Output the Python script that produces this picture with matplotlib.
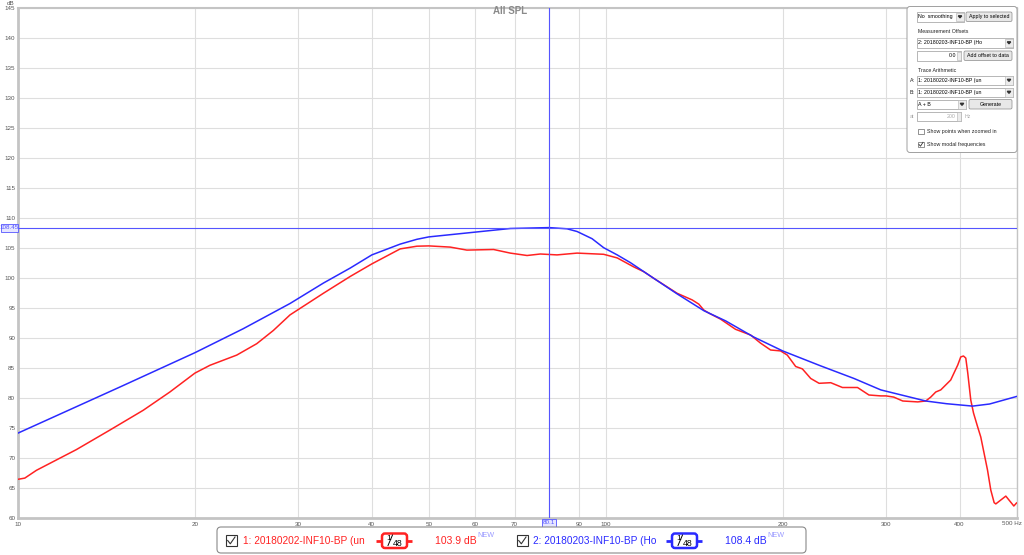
import matplotlib
matplotlib.use("Agg")
import matplotlib.pyplot as plt
from matplotlib.patches import FancyBboxPatch, Rectangle

plt.rcParams['font.family'] = ['Liberation Sans', 'DejaVu Sans']

# ---------------- data ----------------
red_freq = [10, 10.27, 10.75, 12.57, 14.33, 16.33, 18.13, 20, 21.21, 23.56, 25.48,
            27.19, 29.03, 33.08, 36.74, 40, 44.7, 47.72, 50, 54.38, 58.05, 64.45,
            68.81, 73.48, 77.41, 82.64, 89.39, 99.2, 104.6, 111.6, 116.1, 120.7,
            132.3, 140.3, 144.0, 146.9, 149.8, 156.8, 166.3, 176.4, 183.4, 190.8,
            198.4, 203.7, 210.5, 216.1, 223.3, 230.7, 241.5, 252.8, 268.2, 280.5,
            293.8, 300, 309.1, 320.2, 339.6, 350.4, 357.3, 364.4, 371.6, 386.4,
            397.2, 401.9, 406.2, 409.9, 413.1, 418.0, 422.5, 429.2, 434.7, 446.3,
            452.1, 458.1, 461.1, 479.5, 494.8, 500]
red_db = [66.5, 66.7, 68.0, 71.45, 74.7, 78.0, 81.05, 84.2, 85.5, 87.2, 89.1,
          91.3, 93.9, 97.5, 100.3, 102.4, 104.9, 105.35, 105.4, 105.2, 104.7, 104.8,
          104.2, 103.8, 104.05, 103.9, 104.2, 104.0, 103.4, 101.9, 101.1, 100.0,
          97.5, 96.4, 95.7, 94.7, 94.2, 93.2, 91.5, 90.55, 89.2, 88.05,
          87.9, 87.2, 85.3, 84.9, 83.3, 82.5, 82.6, 81.8, 81.8, 80.55,
          80.4, 80.4, 80.2, 79.55, 79.4, 79.55, 80.2, 81.05, 81.4, 83.05,
          85.55, 86.9, 87.05, 86.7, 84.2, 79.7, 77.55, 75.3, 73.55, 68.05,
          64.7, 62.6, 62.4, 63.7, 62.05, 62.55]

blue_freq = [10, 15, 20, 24.17, 29.03, 33.08, 36.74, 40, 44.7, 47.72, 50, 60, 68.81,
             80.1, 85.95, 89.39, 94.8, 99.2, 104.6, 110.2, 120.7, 132.3, 146.9, 160,
             178.7, 200, 232.2, 264.6, 293.8, 350.4, 380, 421, 450, 500]
blue_db = [74.2, 82.0, 87.6, 91.6, 95.8, 99.2, 101.7, 103.9, 105.7, 106.5, 106.9, 107.7, 108.3,
           108.45, 108.25, 107.8, 106.6, 105.1, 103.9, 102.6, 100.0, 97.4, 94.6, 92.9,
           90.2, 87.9, 85.4, 83.3, 81.4, 79.55, 79.1, 78.7, 79.05, 80.3]

x_ticks = [10, 20, 30, 40, 50, 60, 70, 80, 90, 100, 200, 300, 400, 500]
x_labels = ['10', '20', '30', '40', '50', '60', '70', '', '90', '100', '200', '300', '400', '']
x_unit_label = '500 Hz'
y_ticks = list(range(60, 146, 5))
cursor_freq = 80.1
cursor_db = 108.45
legend_names = ['1: 20180202-INF10-BP (un', '2: 20180203-INF10-BP (Ho']
legend_values = ['103.9 dB', '108.4 dB']

RED = '#ff2222'
BLUE = '#2a2aff'
CURSOR = '#5555ff'

# ---------------- figure ----------------
W, H = 1024, 555
fig = plt.figure(figsize=(W / 100, H / 100), dpi=100)
L, R, T, B = 18, 1016.5, 8.3, 518.3
ax = fig.add_axes([L / W, 1 - B / H, (R - L) / W, (B - T) / H])
ax.set_xscale('log')
ax.set_xlim(10, 500)
ax.set_ylim(60, 145)

ax.plot(red_freq, red_db, color=RED, lw=1.1, zorder=3)
ax.plot(blue_freq, blue_db, color=BLUE, lw=1.1, zorder=4)
ax.axvline(cursor_freq, color=CURSOR, lw=0.8, zorder=5)
ax.axhline(cursor_db, color=CURSOR, lw=0.8, zorder=5)

ax.set_xticks(x_ticks)
ax.set_xticklabels(x_labels)
ax.minorticks_off()
ax.set_yticks(y_ticks)
ax.set_yticklabels([str(v) for v in y_ticks])
ax.tick_params(axis='both', length=0, labelsize=4.5, colors='#555555')
ax.tick_params(axis='x', pad=3)
ax.tick_params(axis='y', pad=2)
ax.grid(True, color='#dedede', lw=0.8, zorder=0)
for s in ax.spines.values():
    s.set_color('#c4c4c4')
    s.set_linewidth(1.0)
ax.spines['left'].set_linewidth(2.0)
ax.spines['bottom'].set_linewidth(2.0)
ax.spines['top'].set_linewidth(1.5)

# ---------------- overlay in pixel coordinates ----------------
ov = fig.add_axes([0, 0, 1, 1], zorder=10)
ov.set_xlim(0, W)
ov.set_ylim(H, 0)
ov.axis('off')
ov.patch.set_alpha(0)

ov.text(14, 3.5, 'dB', fontsize=4.5, color='#555555', ha='right', va='center')
ov.text(1022, 523.5, x_unit_label, fontsize=4.5, color='#555555', ha='right', va='center')
ov.text(510, 11.5, 'All SPL', fontsize=7, color='#8a8a8a', fontweight='bold', ha='center', va='center')

# cursor labels
ov.add_patch(Rectangle((541.5, 519), 14, 8, facecolor='#e6e6ff', edgecolor=CURSOR, lw=0.6))
ov.text(548.5, 523, '80.1', fontsize=4.5, color=CURSOR, ha='center', va='center')
ov.add_patch(Rectangle((0.5, 223.5), 17, 8, facecolor='#e6e6ff', edgecolor=CURSOR, lw=0.6))
ov.text(9, 227.5, '108.45', fontsize=4.5, color=CURSOR, ha='center', va='center')

# ---- right control panel ----
ov.add_patch(FancyBboxPatch((907, 6.5), 110, 146, boxstyle='round,pad=0,rounding_size=3',
                            facecolor='white', edgecolor='#a0a0a0', lw=0.7))
fs = 3.8
def combo(x0, x1, y0, text, color='black'):
    ov.add_patch(Rectangle((x0, y0), x1 - x0, 9.5, facecolor='white', edgecolor='#9a9a9a', lw=0.5))
    ov.add_patch(Rectangle((x1 - 8, y0 + 0.5), 7.5, 8.5, facecolor='#ececec', edgecolor='#b0b0b0', lw=0.4))
    ov.fill([x1 - 5.7, x1 - 2.3, x1 - 4.0], [y0 + 3.8, y0 + 3.8, y0 + 5.8], color='#333333')
    ov.text(x0 + 1.5, y0 + 4.9, text, fontsize=fs, color=color, ha='left', va='center')

def button(x0, x1, y0, text):
    ov.add_patch(FancyBboxPatch((x0, y0), x1 - x0, 9.5, boxstyle='round,pad=0,rounding_size=1.5',
                                facecolor='#e8e8e8', edgecolor='#8a8a8a', lw=0.5))
    ov.text((x0 + x1) / 2, y0 + 4.9, text, fontsize=fs, color='black', ha='center', va='center')

def spin(x0, x1, y0, text, color='black'):
    ov.add_patch(Rectangle((x0, y0), x1 - x0, 9.5, facecolor='white', edgecolor='#9a9a9a', lw=0.5))
    ov.add_patch(Rectangle((x1 - 4, y0 + 0.5), 3.5, 8.5, facecolor='#ececec', edgecolor='#b0b0b0', lw=0.4))
    ov.text(x1 - 5, y0 + 4.9, text, fontsize=fs, color=color, ha='right', va='center')

combo(917, 964, 12, 'No  smoothing')
button(966, 1012, 12, 'Apply to selected')
ov.text(918, 31.5, 'Measurement Offsets', fontsize=fs, color='#222222', va='center')
combo(917, 1013, 38, '2: 20180203-INF10-BP (Ho')
spin(917, 961, 51, '0.0')
button(964, 1012, 51, 'Add offset to data')
ov.text(918, 70.5, 'Trace Arithmetic', fontsize=fs, color='#222222', va='center')
ov.text(909.5, 80.5, 'A:', fontsize=fs, color='#222222', va='center')
combo(917, 1013, 75.5, '1: 20180202-INF10-BP (un')
ov.text(909.5, 92.5, 'B:', fontsize=fs, color='#222222', va='center')
combo(917, 1013, 87.5, '1: 20180202-INF10-BP (un')
combo(917, 966, 99.5, 'A + B')
button(969, 1012, 99.5, 'Generate')
ov.text(909.5, 116.5, 'at', fontsize=fs, color='#aaaaaa', va='center')
spin(917, 961, 111.5, '200', color='#aaaaaa')
ov.text(965, 116.5, 'Hz', fontsize=fs, color='#aaaaaa', va='center')
ov.add_patch(Rectangle((918, 128.5), 5.5, 5.5, facecolor='white', edgecolor='#666666', lw=0.5))
ov.text(927, 131.5, 'Show points when zoomed in', fontsize=fs, color='#222222', va='center')
ov.add_patch(Rectangle((918, 141.5), 5.5, 5.5, facecolor='white', edgecolor='#666666', lw=0.5))
ov.plot([919, 920.5, 923], [144.5, 146.2, 142.3], color='#333333', lw=0.6)
ov.text(927, 144.5, 'Show modal frequencies', fontsize=fs, color='#222222', va='center')

# ---- bottom legend ----
ov.add_patch(FancyBboxPatch((217, 527), 589, 26, boxstyle='round,pad=0,rounding_size=4',
                            facecolor='white', edgecolor='#8a8a8a', lw=0.8))
entries = [
    (225.5, 243, 376, 382, 407, 412, 435, RED),
    (516.5, 533, 666, 672, 697, 702, 725, BLUE),
]
for (cbx, tx, l0, b0, b1, l1, vx, col), name, val in zip(entries, legend_names, legend_values):
    ov.add_patch(Rectangle((cbx, 534.5), 11.5, 11.5, facecolor='white', edgecolor='#333333', lw=0.8))
    ov.plot([cbx + 2.2, cbx + 4.8, cbx + 9.5], [540.5, 543.8, 537.0], color='#333333', lw=0.8)
    ov.text(tx, 540.8, name, fontsize=7.3, color=col, ha='left', va='center')
    ov.plot([l0, l1], [541, 541], color=col, lw=2.0, solid_capstyle='butt')
    ov.add_patch(FancyBboxPatch((b0, 533.5), b1 - b0, 14.5, boxstyle='round,pad=0,rounding_size=3',
                                facecolor='white', edgecolor=col, lw=1.8, zorder=3))
    ov.text(b0 + 6.5, 538, '1', fontsize=6, color='black', ha='center', va='center', zorder=4)
    ov.plot([b0 + 6, b0 + 10.5], [545.5, 535], color='black', lw=0.7, zorder=4)
    ov.text(b0 + 16, 543.5, '48', fontsize=6.3, color='black', ha='center', va='center', zorder=4)
    ov.text(vx, 540.8, val, fontsize=7.5, color=col, ha='left', va='center')
    ov.text(vx + 42, 535.5, 'NEW', fontsize=5.2, color='#9999ff', ha='left', va='center')

fig.savefig('out.png', dpi=100)
